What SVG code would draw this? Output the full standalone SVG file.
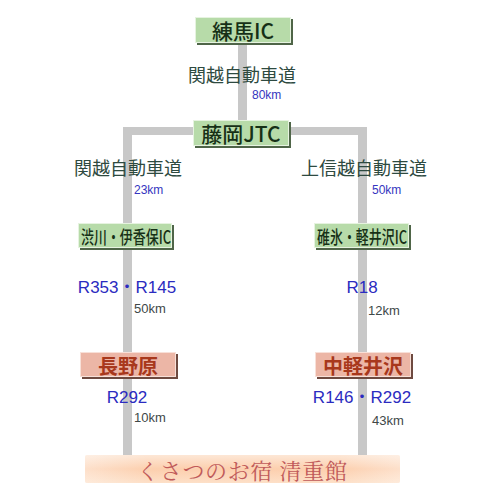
<svg xmlns="http://www.w3.org/2000/svg" width="500" height="500" viewBox="0 0 500 500">
<defs>
<linearGradient id="dest" x1="0" y1="0" x2="0" y2="1">
<stop offset="0" stop-color="#fde7d6"/>
<stop offset="0.5" stop-color="#fccfae"/>
<stop offset="1" stop-color="#fde0c8"/>
</linearGradient>
<linearGradient id="destH" x1="0" y1="0" x2="1" y2="0">
<stop offset="0" stop-color="#ffffff" stop-opacity="0.35"/>
<stop offset="0.2" stop-color="#ffffff" stop-opacity="0"/>
<stop offset="0.8" stop-color="#ffffff" stop-opacity="0"/>
<stop offset="1" stop-color="#ffffff" stop-opacity="0.35"/>
</linearGradient>
</defs>
<style>
.road{fill:#c8c8c8}
.g{fill:#b7dba9;stroke:#e6f3e0;stroke-width:1}
.gs{fill:#4f6548}
.p{fill:#ecb6a6;stroke:#f8e0d8;stroke-width:1}
.ps{fill:#6e4a40}
.gt{font-family:"Noto Sans CJK JP","Liberation Sans",sans-serif;fill:#163016;font-weight:500;text-anchor:middle;dominant-baseline:central}
.pt{font-family:"Noto Sans CJK JP","Liberation Sans",sans-serif;fill:#a8381c;font-weight:bold;text-anchor:middle;dominant-baseline:central;font-size:20px}
.hw{font-family:"Noto Sans CJK JP","Liberation Sans",sans-serif;fill:#2e4a40;font-size:18px;text-anchor:middle;dominant-baseline:central}
.rt{font-family:"Liberation Sans","Noto Sans CJK JP",sans-serif;fill:#2b2bc0;font-size:17px;text-anchor:middle;dominant-baseline:central}
.kmb{font-family:"Liberation Sans",sans-serif;fill:#3535c0;font-size:12px;dominant-baseline:central}
.kmg{font-family:"Liberation Sans",sans-serif;fill:#404848;font-size:13px;dominant-baseline:central}
</style>
<g id="connectors">
<rect class="road" x="238" y="43" width="9" height="78"/>
<rect class="road" x="123" y="127" width="244" height="8"/>
<rect class="road" x="123" y="127" width="9" height="328"/>
<rect class="road" x="358" y="127" width="9" height="328"/>
</g>
<g id="labels">
<text class="hw" x="242" y="74">関越自動車道</text>
<text class="kmb" x="252" y="95">80km</text>
<text class="hw" x="128" y="167">関越自動車道</text>
<text class="kmb" x="134" y="190">23km</text>
<text class="hw" x="364" y="167">上信越自動車道</text>
<text class="kmb" x="372" y="190">50km</text>
<text class="rt" x="127" y="287">R353・R145</text>
<text class="kmg" x="134" y="308">50km</text>
<text class="rt" x="362" y="287">R18</text>
<text class="kmg" x="368" y="310">12km</text>
<text class="rt" x="127" y="397">R292</text>
<text class="kmg" x="134" y="417">10km</text>
<text class="rt" x="362" y="397">R146・R292</text>
<text class="kmg" x="372" y="420">43km</text>
</g>
<g id="nerima">
<rect class="gs" x="197" y="19" width="96" height="26"/>
<rect class="g" x="195.5" y="17.5" width="95" height="25"/>
<text class="gt" x="243" y="30" font-size="21">練馬IC</text>
</g>
<g id="fujioka">
<rect class="gs" x="195" y="122" width="96" height="26"/>
<rect class="g" x="193.5" y="120.5" width="95" height="25"/>
<text class="gt" x="241" y="133" font-size="21">藤岡JTC</text>
</g>
<g id="shibukawa">
<rect class="gs" x="80" y="225" width="94" height="25"/>
<rect class="g" x="78.5" y="223.5" width="93" height="24"/>
<text class="gt" x="126" y="236" font-size="18" textLength="90" lengthAdjust="spacingAndGlyphs">渋川・伊香保IC</text>
</g>
<g id="usui">
<rect class="gs" x="316" y="225" width="95" height="25"/>
<rect class="g" x="314.5" y="223.5" width="94" height="24"/>
<text class="gt" x="362" y="236" font-size="18" textLength="90" lengthAdjust="spacingAndGlyphs">碓氷・軽井沢IC</text>
</g>
<g id="naganohara">
<rect class="ps" x="82" y="354" width="96" height="25"/>
<rect class="p" x="80.5" y="352.5" width="95" height="24"/>
<text class="pt" x="128" y="365">長野原</text>
</g>
<g id="nakakaruizawa">
<rect class="ps" x="317" y="354" width="96" height="25"/>
<rect class="p" x="315.5" y="352.5" width="95" height="24"/>
<text class="pt" x="363" y="365">中軽井沢</text>
</g>
<g id="seijukan">
<rect x="85" y="455" width="315" height="28" rx="2" fill="url(#dest)"/>
<rect x="85" y="455" width="315" height="28" rx="2" fill="url(#destH)"/>
<text x="242" y="469" font-family="'Noto Serif CJK JP','Liberation Serif','Noto Sans CJK JP',serif" font-size="22" fill="#c05a5a" text-anchor="middle" dominant-baseline="central" textLength="210" lengthAdjust="spacing">くさつのお宿 清重館</text>
</g>
</svg>
